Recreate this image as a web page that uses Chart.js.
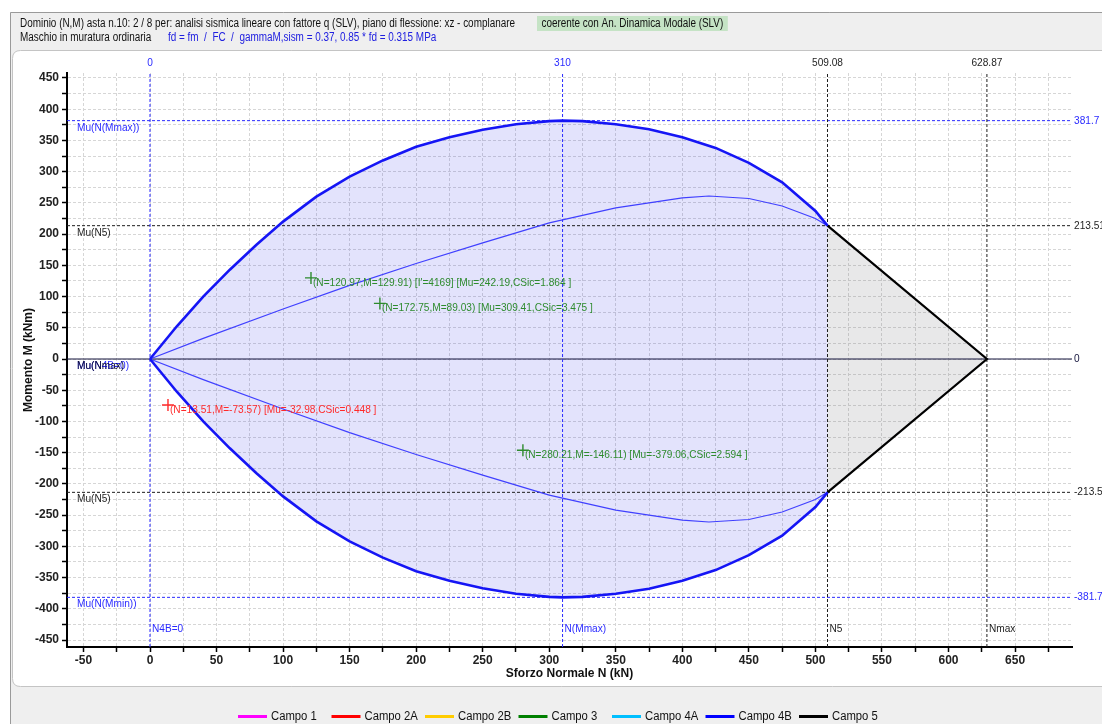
<!DOCTYPE html>
<html>
<head>
<meta charset="utf-8">
<script src="https://cdn.jsdelivr.net/npm/chart.js@4.4.0/dist/chart.umd.min.js"></script>
<style>
  html, body { margin: 0; padding: 0; background: #ffffff; overflow: hidden; }
  #wrap { position: relative; width: 1102px; height: 724px; }
</style>
</head>
<body>
<div id="wrap"><canvas id="c" width="1102" height="724"></canvas></div>
<script>
// Upper branch of the N-M resistance domain (Campo 4B); lower branch is symmetric. N in kN, M in kNm
const domainN = [0, 20, 40, 60, 80, 100, 125, 150, 175, 200, 225, 250, 275, 300, 310, 325, 350, 375, 400, 425, 450, 475, 500, 509.08];
const domainM = [0, 52, 100, 143, 183, 220, 260, 292, 318, 340, 355, 367, 376, 381, 381.7, 381, 376, 368, 355, 338, 314, 283, 237, 213.51];

// Inner curve (upper branch, mirrored below)
const innerN = [0, 40, 100, 150, 200, 250, 300, 350, 400, 420, 450, 475, 500, 509.08];
const innerM = [0, 33, 80, 118, 153, 186, 218, 242, 258, 261, 257, 245, 225, 213.51];

// Campo 5 (compression branch up to Nmax)
const campo5N = [509.08, 628.87, 509.08];
const campo5M = [213.51, 0, -213.51];

// Characteristic values of the domain
const refN = [0, 310, 509.08, 628.87];
const refNTop = ['0', '310', '509.08', '628.87'];
const refNBottom = ['N4B=0', 'N(Mmax)', 'N5', 'Nmax'];
const refM = [381.7, 213.51, 0, -213.51, -381.7];
const refMLeft = ['Mu(N(Mmax))', 'Mu(N5)', 'Mu(N4B=0)', 'Mu(N5)', 'Mu(N(Mmin))'];
const refMRight = ['381.7', '213.51', '0', '-213.51', '-381.7'];

// Verification points
const checkN = [120.97, 172.75, 13.51, 280.21];
const checkM = [129.91, 89.03, -73.57, -146.11];
const checkPass = [true, true, false, true];
const checkText = [
  "(N=120.97,M=129.91) [I'=4169] [Mu=242.19,CSic=1.864 ]",
  "(N=172.75,M=89.03) [Mu=309.41,CSic=3.475 ]",
  "(N=13.51,M=-73.57) [Mu=-32.98,CSic=0.448 ]",
  "(N=280.21,M=-146.11) [Mu=-379.06,CSic=2.594 ]"
];

// Legend entries
const legendLabels = ['Campo 1', 'Campo 2A', 'Campo 2B', 'Campo 3', 'Campo 4A', 'Campo 4B', 'Campo 5'];
const legendColors = ['#ff00ff', '#ff0000', '#ffcc00', '#008000', '#00bfff', '#0000ff', '#000000'];

// Axis extents
const X_MIN = -62.37, X_MAX = 692.8;
const Y_MIN = -461.2, Y_MAX = 458;

const FONT = '"Liberation Sans", Arial, sans-serif';

const pts = (xs, ys, sign) => xs.map((x, i) => ({ x: x, y: (sign || 1) * ys[i] }));
const upper = pts(domainN, domainM, 1);
const lower = pts(domainN, domainM, -1);
const fillShape = upper.concat(lower.slice().reverse());
const campo5 = pts(campo5N, campo5M, 1);

const BLUE_REF = '#2a2aff';
const DARK_REF = '#1e1e1e';
const refColorN = n => (n === 0 || n === 310) ? BLUE_REF : DARK_REF;
const refColorM = m => (Math.abs(m) > 300) ? BLUE_REF : DARK_REF;

const datasets = [];
// Filled domain (Campo 4B region) and Campo 5 triangle
datasets.push({ data: fillShape, fill: 'shape', backgroundColor: 'rgba(60,60,235,0.14)', borderWidth: 0, pointRadius: 0, order: 20 });
datasets.push({ data: campo5, fill: 'shape', backgroundColor: 'rgba(110,110,120,0.16)', borderWidth: 0, pointRadius: 0, order: 20 });
// Reference lines
refN.forEach(n => datasets.push({
  data: [{ x: n, y: Y_MIN }, { x: n, y: Y_MAX }], borderColor: refColorN(n), borderWidth: 1,
  borderDash: [3, 2], pointRadius: 0, fill: false, order: 15
}));
refM.forEach(m => datasets.push({
  data: [{ x: X_MIN, y: m }, { x: X_MAX, y: m }], borderColor: m === 0 ? '#14143c' : refColorM(m), borderWidth: 1,
  borderDash: m === 0 ? [] : [3, 2], pointRadius: 0, fill: false, order: 15
}));
// Inner curves
datasets.push({ data: pts(innerN, innerM, 1), borderColor: '#4040ff', borderWidth: 1.2, pointRadius: 0, fill: false, order: 10 });
datasets.push({ data: pts(innerN, innerM, -1), borderColor: '#4040ff', borderWidth: 1.2, pointRadius: 0, fill: false, order: 10 });
// Domain boundary
datasets.push({ data: upper, borderColor: '#1515f5', borderWidth: 2.6, pointRadius: 0, fill: false, order: 5 });
datasets.push({ data: lower, borderColor: '#1515f5', borderWidth: 2.6, pointRadius: 0, fill: false, order: 5 });
datasets.push({ data: campo5, borderColor: '#000000', borderWidth: 2.2, pointRadius: 0, fill: false, order: 5 });
// Verification points
const CHECK_IDX = datasets.length;
datasets.push({
  data: pts(checkN, checkM, 1), showLine: false, pointStyle: 'cross', pointRadius: 6,
  pointBorderWidth: 1.4, pointBorderColor: checkPass.map(p => p ? '#2e8b2e' : '#ff2a2a'), order: 1
});

function roundRect(ctx, x, y, w, h, r) {
  ctx.beginPath();
  ctx.moveTo(x + r, y);
  ctx.lineTo(x + w - r, y);
  ctx.quadraticCurveTo(x + w, y, x + w, y + r);
  ctx.lineTo(x + w, y + h - r);
  ctx.quadraticCurveTo(x + w, y + h, x + w - r, y + h);
  ctx.lineTo(x + r, y + h);
  ctx.quadraticCurveTo(x, y + h, x, y + h - r);
  ctx.lineTo(x, y + r);
  ctx.quadraticCurveTo(x, y, x + r, y);
  ctx.closePath();
}

// text drawn with a horizontal squeeze factor (condensed rendering)
function textX(ctx, str, x, y, sx) {
  ctx.save();
  ctx.translate(x, y);
  ctx.scale(sx, 1);
  ctx.fillText(str, 0, 0);
  ctx.restore();
}

const decor = {
  id: 'decor',
  beforeDraw(chart) {
    const ctx = chart.ctx;
    ctx.save();
    ctx.fillStyle = '#ffffff';
    ctx.fillRect(0, 0, 1102, 724);
    ctx.fillStyle = '#efefef';
    ctx.fillRect(10, 12, 1092, 712);
    ctx.strokeStyle = '#9a9a9a';
    ctx.lineWidth = 1;
    ctx.beginPath();
    ctx.moveTo(10.5, 724); ctx.lineTo(10.5, 12.5); ctx.lineTo(1102, 12.5);
    ctx.stroke();
    // plot panel
    roundRect(ctx, 12.5, 50.5, 1105, 636, 8);
    ctx.fillStyle = '#ffffff';
    ctx.fill();
    ctx.strokeStyle = '#c4c4c4';
    ctx.stroke();

    // header
    ctx.font = '12px ' + FONT;
    ctx.textBaseline = 'middle';
    ctx.textAlign = 'left';
    const line1 = 'Dominio (N,M) asta n.10: 2 / 8 per: analisi sismica lineare con fattore q (SLV), piano di flessione: xz - complanare';
    const sx = 495 / ctx.measureText(line1).width;
    ctx.fillStyle = '#111111';
    textX(ctx, line1, 20, 23.5, sx);
    const tag = 'coerente con An. Dinamica Modale (SLV)';
    const tw = ctx.measureText(tag).width * sx;
    ctx.fillStyle = '#c5e3c5';
    ctx.fillRect(537, 16, tw + 9, 15);
    ctx.fillStyle = '#111111';
    textX(ctx, tag, 541.5, 23.5, sx);
    textX(ctx, 'Maschio in muratura ordinaria', 20, 37.5, sx);
    ctx.fillStyle = '#2020e0';
    textX(ctx, 'fd = fm  /  FC  /  gammaM,sism = 0.37, 0.85 * fd = 0.315 MPa', 168, 37.5, sx);
    ctx.restore();
  },
  afterDatasetsDraw(chart) {
    const ctx = chart.ctx;
    const xs = chart.scales.x, ys = chart.scales.y;
    const area = chart.chartArea;
    const SQ = 0.92;
    ctx.save();
    ctx.font = '11px ' + FONT;
    ctx.textBaseline = 'middle';

    // labels of vertical reference lines
    refN.forEach((n, i) => {
      const px = xs.getPixelForValue(n);
      ctx.fillStyle = refColorN(n);
      ctx.textAlign = 'center';
      textX(ctx, refNTop[i], px, area.top - 10, SQ);
      ctx.textAlign = 'left';
      textX(ctx, refNBottom[i], px + 2, area.bottom - 18, SQ);
    });

    // labels of horizontal reference lines
    refM.forEach((m, i) => {
      const py = ys.getPixelForValue(m);
      ctx.textAlign = 'left';
      ctx.fillStyle = refColorM(m);
      if (m === 0) {
        ctx.fillStyle = BLUE_REF;
        textX(ctx, refMLeft[i], area.left + 10, py + 7, SQ);
        ctx.fillStyle = '#101030';
        textX(ctx, 'Mu(Nmax)', area.left + 10, py + 7, SQ);
        ctx.fillStyle = '#14143c';
      } else {
        textX(ctx, refMLeft[i], area.left + 10, py + 7, SQ);
      }
      textX(ctx, refMRight[i], area.right + 2, py, SQ);
    });

    // verification point labels
    const meta = chart.getDatasetMeta(CHECK_IDX);
    meta.data.forEach((el, i) => {
      ctx.fillStyle = checkPass[i] ? '#2e8b2e' : '#ff2a2a';
      ctx.textAlign = 'left';
      textX(ctx, checkText[i], el.x + 2, el.y + 5, SQ);
    });
    ctx.restore();
  },
  afterDraw(chart) {
    const ctx = chart.ctx;
    ctx.save();
    ctx.font = '12px ' + FONT;
    ctx.textBaseline = 'middle';
    ctx.textAlign = 'left';
    legendLabels.forEach((lab, i) => {
      const x0 = 238 + i * 93.5;
      ctx.strokeStyle = legendColors[i];
      ctx.lineWidth = 3;
      ctx.beginPath();
      ctx.moveTo(x0, 716.5); ctx.lineTo(x0 + 29, 716.5);
      ctx.stroke();
      ctx.fillStyle = '#111111';
      textX(ctx, lab, x0 + 33, 716.5, 0.94);
    });
    ctx.restore();
  }
};

new Chart(document.getElementById('c'), {
  type: 'line',
  data: { datasets: datasets },
  options: {
    responsive: false,
    animation: false,
    events: [],
    layout: { padding: { left: 0, right: 30, top: 73, bottom: 0 } },
    plugins: { legend: { display: false }, tooltip: { enabled: false } },
    elements: { line: { tension: 0 } },
    scales: {
      x: {
        type: 'linear', min: X_MIN, max: X_MAX,
        afterFit(s) { s.height = 77; },
        ticks: {
          stepSize: 25, includeBounds: false, padding: 1, maxRotation: 0, autoSkip: false,
          color: '#222222', font: { family: FONT, size: 12, weight: 'bold' },
          callback: v => (Math.round(v) % 50 === 0 ? String(Math.round(v)) : '')
        },
        grid: { color: '#d6d6d6', lineWidth: 1, tickLength: 5, tickColor: '#000000', tickWidth: 1.5, tickBorderDash: [] },
        border: { display: true, color: '#000000', width: 2, dash: [3, 2] },
        title: { display: true, text: 'Sforzo Normale N (kN)', color: '#111111',
          font: { family: FONT, size: 12, weight: 'bold' }, padding: { top: 0, bottom: 42.8 } }
      },
      y: {
        type: 'linear', min: Y_MIN, max: Y_MAX,
        afterFit(s) { s.width = 67; },
        ticks: {
          stepSize: 25, includeBounds: false, padding: 3, autoSkip: false,
          color: '#222222', font: { family: FONT, size: 12, weight: 'bold' },
          callback: v => (Math.round(v) % 50 === 0 ? String(Math.round(v)) : '')
        },
        grid: { color: '#d6d6d6', lineWidth: 1, tickLength: 5, tickColor: '#000000', tickWidth: 1.5, tickBorderDash: [] },
        border: { display: true, color: '#000000', width: 2, dash: [3, 2] },
        title: { display: true, text: 'Momento M (kNm)', color: '#111111',
          font: { family: FONT, size: 12, weight: 'bold' }, padding: { top: 21, bottom: 0 } }
      }
    }
  },
  plugins: [decor]
});
</script>
</body>
</html>
